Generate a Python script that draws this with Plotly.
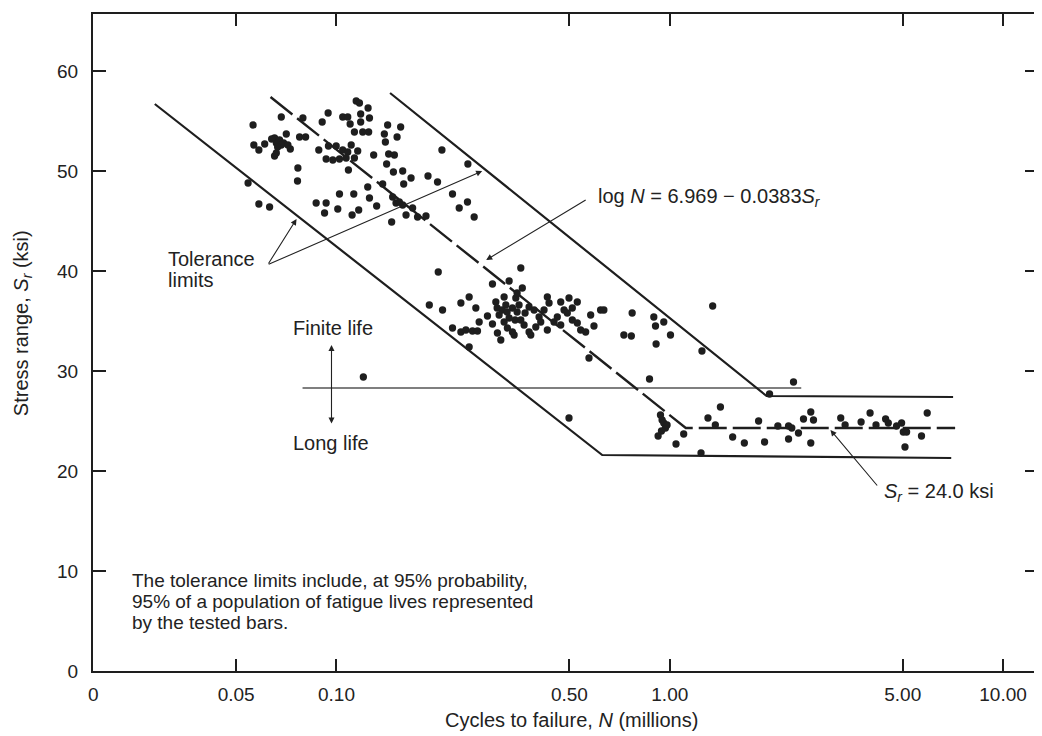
import plotly.graph_objects as go

# ---------------- data (N in millions of cycles, S in ksi) ----------------
N_mil = [
    # upper cluster (S ~ 44-58)
    0.0562, 0.0683, 0.0793, 0.0906, 0.0944, 0.1044, 0.1081, 0.1146, 0.1172, 0.1244,
    0.1182, 0.1256, 0.1182, 0.1099, 0.1424, 0.1558, 0.1132, 0.1199, 0.1249, 0.1392,
    0.1520, 0.0707, 0.0652, 0.0675, 0.0694, 0.0660, 0.0683, 0.0639, 0.0666, 0.0775,
    0.0808, 0.0565, 0.0609, 0.0585, 0.0715, 0.0727, 0.0652, 0.0660, 0.0885, 0.0946,
    0.0998, 0.1044, 0.1081, 0.1107, 0.1158, 0.0931, 0.0975, 0.1021, 0.1069, 0.1132,
    0.1293, 0.1402, 0.1434, 0.1492, 0.1414, 0.1086, 0.1482, 0.1580, 0.1674, 0.1591,
    0.1882, 0.2010, 0.2072, 0.2479, 0.0766, 0.0764, 0.0543, 0.0585, 0.0630, 0.1021,
    0.1127, 0.1241, 0.1256, 0.0869, 0.0931, 0.0921, 0.1009, 0.1114, 0.1166, 0.1320,
    0.1376, 0.1474, 0.1509, 0.1544, 0.1580, 0.1617, 0.1692, 0.1751, 0.1856, 0.1464,
    0.2229, 0.2335, 0.2472, 0.2589,
    # middle cluster (S ~ 31-40)
    0.2020, 0.1899, 0.2081, 0.2362, 0.2501, 0.2619, 0.2229, 0.2362, 0.2445, 0.2559,
    0.2649, 0.2680, 0.2501, 0.2838, 0.2938, 0.2938, 0.3007, 0.3076, 0.3040, 0.3112,
    0.3184, 0.3222, 0.3372, 0.3296, 0.3452, 0.3573, 0.3257, 0.3372, 0.3412, 0.3184,
    0.3296, 0.3141, 0.3034, 0.3251, 0.3483, 0.3435, 0.3530, 0.3611, 0.3483, 0.3783,
    0.3916, 0.3680, 0.3573, 0.3655, 0.3783, 0.3828, 0.3963, 0.4054, 0.4101, 0.4292,
    0.4292, 0.4343, 0.4195, 0.4495, 0.4598, 0.4708, 0.4708, 0.4817, 0.4927, 0.4985,
    0.5100, 0.5279, 0.5100, 0.5279, 0.5403, 0.5593, 0.5790, 0.5923, 0.6200, 0.6343,
    0.5723, 0.7282, 0.7668, 0.7711, 0.8956, 0.9594, 0.9061, 1.005, 0.9099, 1.345,
    1.249, 0.8694, 2.351, 1.992,
    # long-life region (S ~ 21-26)
    0.9379, 0.9483, 0.9594, 0.9707, 0.9815, 0.9443, 0.9226, 1.101, 1.044, 1.302,
    1.419, 1.370, 1.544, 1.674, 1.847, 1.925, 2.110, 2.272, 2.272, 1.241,
    2.323, 2.433, 2.519, 2.649, 2.699, 2.649, 3.258, 3.358, 3.750, 3.990,
    4.157, 4.442, 4.525, 4.792, 4.961, 5.019, 5.135, 5.078, 5.692, 5.921,
    # isolated points
    0.1204, 0.4985,
]
S_ksi = [
    54.6, 55.4, 55.3, 54.9, 55.8, 55.4, 55.4, 57.0, 56.8, 56.3,
    55.7, 55.3, 54.9, 54.7, 54.6, 54.4, 53.9, 53.9, 53.9, 53.7,
    53.4, 53.7, 53.3, 53.1, 52.8, 52.8, 52.6, 53.2, 52.4, 53.4,
    53.4, 52.6, 52.7, 52.1, 52.6, 52.2, 51.5, 51.8, 52.1, 52.5,
    52.5, 52.1, 51.9, 52.6, 52.0, 51.2, 51.1, 51.2, 51.3, 51.3,
    51.6, 52.9, 51.7, 51.6, 50.7, 50.1, 49.9, 50.0, 49.3, 48.7,
    49.5, 48.9, 52.1, 50.7, 50.3, 49.0, 48.8, 46.7, 46.4, 47.7,
    47.7, 48.4, 47.3, 46.8, 46.8, 45.8, 46.2, 45.6, 46.1, 46.5,
    48.7, 47.4, 46.8, 46.9, 46.6, 45.6, 46.3, 45.4, 45.5, 44.9,
    47.7, 46.3, 46.9, 45.4,
    39.9, 36.6, 36.1, 36.8, 37.4, 36.3, 34.3, 33.9, 34.1, 34.0,
    34.0, 34.9, 32.4, 35.5, 38.7, 34.7, 36.9, 35.6, 33.8, 33.1,
    37.4, 36.6, 36.3, 39.0, 37.3, 40.3, 34.3, 33.9, 33.6, 34.9,
    35.3, 36.1, 36.3, 35.9, 35.9, 35.1, 36.6, 38.3, 37.8, 36.4,
    36.1, 35.8, 35.1, 34.6, 33.9, 33.6, 34.4, 35.4, 34.9, 34.1,
    37.4, 36.8, 36.1, 34.9, 35.4, 34.6, 36.9, 36.1, 35.8, 37.3,
    36.3, 36.9, 35.1, 34.8, 34.1, 33.9, 35.6, 34.5, 36.1, 36.1,
    31.3, 33.6, 33.5, 35.8, 35.4, 34.9, 34.5, 33.6, 32.7, 36.5,
    32.0, 29.2, 28.9, 27.7,
    25.6, 25.1, 24.8, 24.3, 24.6, 24.0, 23.5, 23.7, 22.7, 25.3,
    26.4, 24.6, 23.4, 22.8, 25.0, 22.9, 24.5, 24.5, 23.2, 21.8,
    24.3, 23.8, 25.2, 25.9, 25.1, 22.8, 25.3, 24.6, 24.9, 25.8,
    24.6, 25.2, 24.8, 24.5, 24.8, 23.9, 23.9, 22.4, 23.5, 25.8,
    29.4, 25.3,
]

# regression line  log N = 6.969 - 0.0383 Sr, with endurance limit
mean_N = [0.0634, 1.117, 7.18]
mean_S = [57.4, 24.3, 24.3]
# tolerance limits
upper_N = [0.1448, 1.952, 7.08]
upper_S = [57.8, 27.5, 27.4]
lower_N = [0.0285, 0.627, 6.99]
lower_S = [56.7, 21.6, 21.3]
# finite / long life boundary
bound_N = [0.0791, 2.48]
bound_S = [28.3, 28.3]

x_tick_vals = [10 ** -1.7295, 0.05, 0.10, 0.50, 1.00, 5.00, 10.00]
x_tick_text = ["0", "0.05", "0.10", "0.50", "1.00", "5.00", "10.00"]
y_tick_vals = [0, 10, 20, 30, 40, 50, 60]

FONT = "Liberation Sans, Arial, Helvetica, sans-serif"
INK = "#1e1e1e"
OFF = 8                       # page body margin of the html page
W, H = 1042 - OFF, 736 - OFF  # figure size
PL, PR, PT, PB = 93, 1040, 14, 671   # plot area in page pixels
L, T = PL - OFF, PT - OFF
R, B = W - (PR - OFF), H - (PB - OFF)
PW, PH = PR - PL, PB - PT


def paper(x, y):
    """page pixel -> paper fraction (for text placement only)"""
    return (x - PL) / PW, (PB - y) / PH


fig = go.Figure()
fig.add_trace(go.Scatter(x=bound_N, y=bound_S, mode="lines",
                         line=dict(color="#555555", width=1.3), hoverinfo="skip"))
fig.add_trace(go.Scatter(x=lower_N, y=lower_S, mode="lines",
                         line=dict(color=INK, width=2.2), hoverinfo="skip"))
fig.add_trace(go.Scatter(x=upper_N, y=upper_S, mode="lines",
                         line=dict(color=INK, width=2.2), hoverinfo="skip"))
fig.add_trace(go.Scatter(x=mean_N, y=mean_S, mode="lines",
                         line=dict(color=INK, width=2.4, dash="28px,6px"),
                         hoverinfo="skip"))
fig.add_trace(go.Scatter(x=N_mil, y=S_ksi, mode="markers",
                         marker=dict(color=INK, size=7.3, line=dict(width=0))))

ann = []


def text(x, y, s, size=20, anchor="left"):
    px_, py_ = paper(x, y)
    ann.append(dict(x=px_, y=py_, xref="paper", yref="paper", text=s, showarrow=False,
                    xanchor=anchor, yanchor="middle", align="left",
                    font=dict(family=FONT, size=size, color="#222222")))


def arrow(hx, hy, tx, ty, side="end"):
    px_, py_ = paper(hx, hy)
    ann.append(dict(x=px_, y=py_, xref="paper", yref="paper", text="", showarrow=True,
                    ax=tx - hx, ay=ty - hy, axref="pixel", ayref="pixel",
                    arrowhead=2, arrowsize=1.1, arrowwidth=1.1, arrowcolor="#222222",
                    arrowside=side, standoff=0, startstandoff=0))


text(166, 259, "Tolerance")
text(166, 280, "limits")
arrow(297, 219, 268, 265)
arrow(483, 171, 268, 265)

text(597, 197, "log <i>N</i> = 6.969 \u2212 0.0383<i>S<sub>r</sub></i>")
arrow(487, 260, 588, 199)

text(884, 492, "<i>S<sub>r</sub></i> = 24.0 ksi")
arrow(832, 430, 880, 487)

text(291, 328, "Finite life")
text(291, 443, "Long life")
arrow(332, 345, 332, 425, side="end+start")

text(130, 580, "The tolerance limits include, at 95% probability,", size=19)
text(130, 601, "95% of a population of fatigue lives represented", size=19)
text(130, 622, "by the tested bars.", size=19)

# axis titles
tx, ty = paper(573, 720)
ann.append(dict(x=tx, y=ty, xref="paper", yref="paper", showarrow=False,
                text="Cycles to failure, <i>N</i> (millions)", xanchor="center",
                yanchor="middle", font=dict(family=FONT, size=20, color="#222222")))
tx, ty = paper(22, 323)
ann.append(dict(x=tx, y=ty, xref="paper", yref="paper", showarrow=False, textangle=-90,
                text="Stress range, <i>S<sub>r</sub></i> (ksi)", xanchor="center",
                yanchor="middle", font=dict(family=FONT, size=20, color="#222222")))

fig.update_layout(
    width=W, height=H, margin=dict(l=L, r=R, t=T, b=B, pad=0),
    paper_bgcolor="white", plot_bgcolor="white", showlegend=False,
    annotations=ann,
    font=dict(family=FONT, size=19, color="#222222"),
)
fig.update_xaxes(type="log", range=[-1.7305, 1.1048], tickvals=x_tick_vals,
                 ticktext=x_tick_text, ticks="inside", ticklen=12, tickwidth=2,
                 tickcolor=INK, showline=True, linecolor=INK, linewidth=2,
                 mirror="ticks", showgrid=False, zeroline=False,
                 tickfont=dict(family=FONT, size=19, color="#222222"),
                 ticklabelstandoff=5)
fig.update_yaxes(range=[0, 65.7], tickvals=y_tick_vals, ticks="inside", ticklen=13,
                 tickwidth=2, tickcolor=INK, showline=True, linecolor=INK,
                 linewidth=2, mirror="ticks", showgrid=False, zeroline=False,
                 tickfont=dict(family=FONT, size=19, color="#222222"),
                 ticklabelstandoff=9)

fig.write_html("out.html")
